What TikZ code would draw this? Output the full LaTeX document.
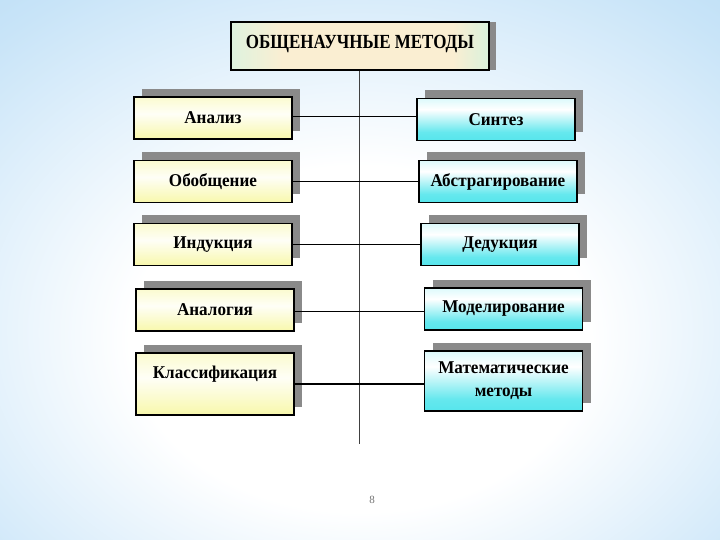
\documentclass[tikz,border=0pt]{standalone}
\usepackage{fontspec}
\setmainfont{Liberation Serif}
\newfontfamily\boxfont{Liberation Serif}[FakeStretch=0.95]
\newfontfamily\headfont{Liberation Serif}[FakeStretch=0.85]
\usepackage{xcolor}
\usetikzlibrary{positioning,shadows}
\definecolor{slideblue}{RGB}{168,212,242}
\definecolor{slideedge}{RGB}{200,228,248}
\definecolor{boxyellow}{RGB}{246,246,150}
\definecolor{boxcyan}{RGB}{50,224,232}
\definecolor{headbeige}{RGB}{250,238,210}
\definecolor{shadowgray}{RGB}{138,138,138}
\pgfdeclareradialshading{slidebg}{\pgfpoint{0bp}{-8bp}}{%
  color(0bp)=(white); color(16bp)=(white); color(36bp)=(slideedge);
  color(52bp)=(slideblue); color(80bp)=(slideblue)}
\pgfdeclareverticalshading{yellowshade}{100bp}{%
  color(0bp)=(boxyellow); color(25bp)=(boxyellow!80!white); color(55bp)=(white!92!boxyellow);
  color(80bp)=(boxyellow!55!white); color(100bp)=(boxyellow!65!white)}
\pgfdeclareverticalshading{cyanshade}{100bp}{%
  color(0bp)=(boxcyan); color(35bp)=(boxcyan!75!white); color(62bp)=(white);
  color(85bp)=(boxcyan!30!white); color(100bp)=(boxcyan!35!white)}
\pgfdeclarehorizontalshading{headshade}{100bp}{%
  color(0bp)=(cyan!40!white); color(35bp)=(headbeige); color(68bp)=(headbeige);
  color(100bp)=(cyan!60!white)}

\begin{document}
\begin{tikzpicture}[
    x=1pt,y=-1pt,
    base/.style={rectangle,draw=black,line width=1.2pt,align=center,
      font=\boxfont\fontsize{18}{23}\selectfont\bfseries,
      general shadow={shadow xshift=8pt,shadow yshift=8pt,fill=shadowgray}},
    method/.style={base,minimum width=158pt,minimum height=42pt,shading=yellowshade},
    pair/.style={base,minimum width=158pt,minimum height=42pt,shading=cyanshade},
    head/.style={rectangle,draw=black,line width=1.2pt,
      minimum width=258pt,minimum height=48pt,text depth=9pt,
      font=\headfont\fontsize{20}{22}\selectfont\bfseries,shading=headshade,
      general shadow={shadow xshift=7pt,shadow yshift=0pt,fill=shadowgray}},
    link/.style={draw=black,line width=1pt},
    spine/.style={draw=black!75,line width=1.6pt}
  ]
    % background of the slide
    \shade[shading=slidebg] (0,0) rectangle (720,540);
    \useasboundingbox (0,0) rectangle (720,540);

    \node[head] (title) at (360,46) {ОБЩЕНАУЧНЫЕ МЕТОДЫ};

    % left column
    \node[method] (analiz) at (213,118) {Анализ};
    \node[method] (obobsch) at (213,181.5) {Обобщение};
    \node[method] (indukc) at (213,244.5) {Индукция};
    \node[method] (analog) at (215,310) {Аналогия};
    \node[method,minimum height=62pt] (klass) at (215,384) {Классификация\\\mbox{}};

    % right column
    \node[pair] (sintez) at (496,119.5) {Синтез};
    \node[pair] (abstr) at (498,181.5) {Абстрагирование};
    \node[pair] (dedukc) at (500,244.5) {Дедукция};
    \node[pair] (model) at (503.5,309) {Моделирование};
    \node[pair,minimum height=60pt] (matem) at (503.5,381) {Математические\\методы};

    \coordinate (spineend) at (359.5,443.5);
    \draw[spine] (title.south -| spineend) -- (spineend);

    \draw[link] (analiz.east) ++(0,-1.5) coordinate (a1) -- (a1 -| sintez.west);
    \draw[link] (obobsch.east) -- (obobsch.east -| abstr.west);
    \draw[link,line width=1.5pt] (indukc.east) -- (indukc.east -| dedukc.west);
    \draw[link,line width=1.5pt] (analog.east) ++(0,1.5) coordinate (a4) -- (a4 -| model.west);
    \draw[link,line width=1.5pt] (klass.east) -- (klass.east -| matem.west);

    \node[text=black!55,font=\fontsize{11}{12}\selectfont] (page) at (372,500) {8};
  \end{tikzpicture}
\end{document}
